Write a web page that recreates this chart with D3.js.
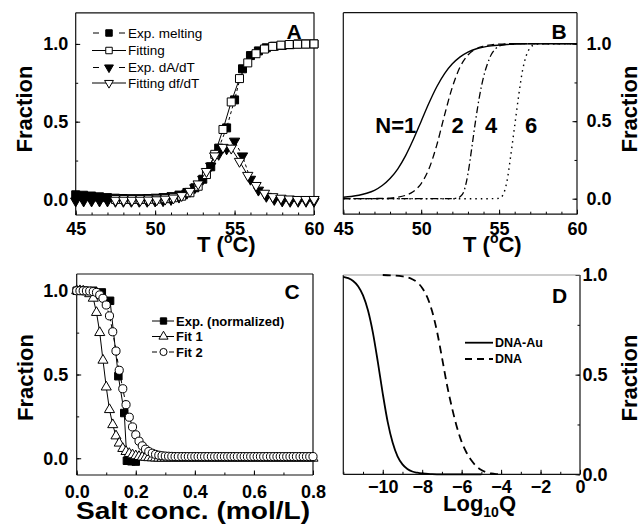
<!DOCTYPE html>
<html><head><meta charset="utf-8">
<script src="https://cdn.jsdelivr.net/npm/d3@7"></script>
<style>body{margin:0;background:#fff}svg{display:block}</style>
</head><body><script>
// ---------- Panel A data ----------
const aExpT = [45,45.5,46,46.5,47,47.5,48,48.5,49,49.5,50,50.5,51,51.5,52,52.5,53,53.5,54,54.5,55,55.5,56,56.5,57,57.5,58,58.5,59,59.5,60];
const aExpMelt = [0.03,0.027,0.022,0.017,0.012,0.008,0.006,0.005,0.005,0.006,0.008,0.012,0.018,0.028,0.045,0.075,0.13,0.21,0.33,0.46,0.64,0.84,0.925,0.955,0.975,0.985,0.99,0.995,1.0,1.0,1.0];
const aExpDeriv = [-0.01,-0.01,-0.01,-0.01,-0.01,-0.012,-0.012,-0.012,-0.012,-0.012,-0.01,-0.008,0.0,0.015,0.04,0.075,0.13,0.215,0.29,0.325,0.375,0.28,0.13,0.06,0.02,0.0,-0.01,-0.012,-0.012,-0.012,-0.012];
const aFitT = [47.50,48.02,48.54,49.06,49.58,50.10,50.63,51.15,51.67,52.19,52.71,53.23,53.75,54.27,54.79,55.31,55.83,56.35,56.88,57.40,57.92,58.44,58.96,59.48,60.00];
const aFit = [0,0,0,0,0.001,0.002,0.005,0.011,0.021,0.043,0.085,0.16,0.29,0.45,0.627,0.777,0.878,0.937,0.967,0.984,0.992,0.996,0.998,0.999,1.0];
const aFitDeriv = [-0.005,-0.005,-0.005,-0.005,-0.004,-0.002,0.002,0.009,0.025,0.052,0.1,0.18,0.28,0.335,0.33,0.245,0.155,0.09,0.04,0.018,0.008,0.003,0.0,0.0,0.0];
const aLegend = ["Exp. melting","Fitting","Exp. dA/dT","Fitting df/dT"];
const aXTicks = [45,50,55,60];
const aXMinor = [45,46,47,48,49,50,51,52,53,54,55,56,57,58,59,60];
const fracTicks = [0.0,0.5,1.0];
const fracMinor = [0.0,0.25,0.5,0.75,1.0];

// ---------- Panel B data ----------
const bT1 = [45,45.5,46,46.5,47,47.5,48,48.5,49,49.5,50,50.5,51,51.5,52,52.5,53,53.5,54,54.5,55,55.5,56,57,58,59,60];
const bN1 = [0.009,0.014,0.022,0.035,0.054,0.085,0.13,0.193,0.278,0.383,0.5,0.617,0.722,0.807,0.87,0.915,0.946,0.966,0.978,0.986,0.991,0.995,0.997,0.999,1,1,1];
const bT2 = [45,46,47,48,48.5,49,49.5,50,50.5,51,51.5,52,52.5,53,53.5,54,54.5,55,56,57,60];
const bN2 = [0,0,0.001,0.004,0.01,0.022,0.047,0.098,0.193,0.346,0.54,0.72,0.851,0.927,0.966,0.984,0.993,0.997,1,1,1];
const bT4 = [45,50,51,52,52.25,52.5,52.75,53,53.25,53.5,53.75,54,54.25,54.5,54.75,55,55.5,56,60];
const bN4 = [0,0,0,0.001,0.004,0.013,0.05,0.16,0.33,0.51,0.665,0.785,0.87,0.93,0.965,0.985,0.997,1,1];
const bT6 = [45,50,54,55,55.25,55.5,55.75,56,56.25,56.5,56.75,57,57.25,57.5,58,60];
const bN6 = [0,0,0,0.002,0.025,0.11,0.28,0.47,0.66,0.825,0.925,0.975,0.992,0.998,1,1];
const bLabels = ["N=1","2","4","6"];

// ---------- Panel C data ----------
const cX = [0,0.011,0.022,0.033,0.044,0.056,0.067,0.078,0.089,0.1,
 0.111,0.122,0.133,0.144,0.156,0.167,0.178,0.189,0.2,
 0.211,0.222,0.233,0.244,0.256,0.267,0.278,0.289,0.3,
 0.311,0.322,0.333,0.344,0.356,0.367,0.378,0.389,0.4,
 0.411,0.422,0.433,0.444,0.456,0.467,0.478,0.489,0.5,
 0.511,0.522,0.533,0.544,0.556,0.567,0.578,0.589,0.6,
 0.611,0.622,0.633,0.644,0.656,0.667,0.678,0.689,0.7,
 0.711,0.722,0.733,0.744,0.756,0.767,0.778,0.789,0.8];
const cFit1 = [1.0,1.0,0.998,0.993,0.982,0.955,0.87,0.75,0.585,0.425,
 0.29,0.2,0.133,0.09,0.058,0.04,0.028,0.02,0.014,
 0.01,0.007,0.005,0.003,0.002,0.001,0,0,0,
 0,0,0,0,0,0,0,0,0,
 0,0,0,0,0,0,0,0,0,
 0,0,0,0,0,0,0,0,0,
 0,0,0,0,0,0,0,0,0,
 0,0,0,0,0,0,0,0,0];
const cFit2 = [1.0,1.0,1.0,0.999,0.998,0.995,0.99,0.975,0.955,0.915,
 0.85,0.755,0.64,0.525,0.415,0.32,0.245,0.187,0.14,
 0.102,0.074,0.054,0.04,0.03,0.023,0.018,0.015,0.013,
 0.012,0.011,0.01,0.01,0.01,0.01,0.01,0.01,0.01,
 0.01,0.01,0.01,0.01,0.01,0.01,0.01,0.01,0.01,
 0.01,0.01,0.01,0.01,0.01,0.01,0.01,0.01,0.01,
 0.01,0.01,0.01,0.01,0.01,0.01,0.01,0.01,0.01,
 0.01,0.01,0.01,0.01,0.01,0.01,0.01,0.01,0.01];
const cExpX = [0.0,0.028,0.056,0.085,0.113,0.141,0.161,0.170,0.185,0.2];
const cExp = [1.0,1.0,1.0,0.99,0.94,0.49,0.27,-0.015,-0.018,-0.02];
const cLegend = ["Exp. (normalized)","Fit 1","Fit 2"];
const cXTicks = [0.0,0.2,0.4,0.6,0.8];
const cXMinor = [0,0.1,0.2,0.3,0.4,0.5,0.6,0.7,0.8];

// ---------- Panel D data ----------
const dAuX = [-12,-11.75,-11.5,-11.25,-11,-10.75,-10.5,-10.25,-10,-9.75,-9.5,-9.25,-9,-8.75,-8.5,-8.25,-8,-7.5,-7,-6,-5];
const dAu = [0.991,0.984,0.97,0.944,0.898,0.823,0.711,0.564,0.405,0.263,0.159,0.09,0.05,0.027,0.014,0.008,0.004,0.001,0,0,0];
const dDnaX = [-10,-9.5,-9,-8.75,-8.5,-8.25,-8,-7.75,-7.5,-7.25,-7,-6.75,-6.5,-6.25,-6,-5.75,-5.5,-5.25,-5,-4.75,-4.5,-4.25,-4];
const dDna = [1.0,0.998,0.993,0.988,0.979,0.963,0.935,0.89,0.819,0.717,0.587,0.452,0.338,0.24,0.163,0.108,0.069,0.04,0.022,0.01,0.004,0.001,0];
const dLegend = ["DNA-Au","DNA"];
const dXTicks = [-10,-8,-6,-4,-2,0];
const dXMinor = [-12,-11,-10,-9,-8,-7,-6,-5,-4,-3,-2,-1,0];

// ---------- drawing ----------
const FONT = '"Liberation Sans", Arial, Helvetica, sans-serif';
const TICKFS = 18;
const svg = d3.select('body').append('svg').attr('width',641).attr('height',529)
  .attr('font-family',FONT);
svg.append('rect').attr('width',641).attr('height',529).attr('fill','#fff');

const xA = d3.scaleLinear([45,60],[75.7,314]);
const yA = d3.scaleLinear([-0.1,1.2],[215,12.8]);
const xB = d3.scaleLinear([45,60],[343.3,577]);
const yB = d3.scaleLinear([-0.1,1.2],[214.2,12.7]);
const xC = d3.scaleLinear([0,0.8],[76.7,313]);
const yC = d3.scaleLinear([-0.1,1.1],[475,274]);
const xD = d3.scaleLinear([-12,0],[343.3,580]);
const yD = d3.scaleLinear([0,1],[474.3,275]);

function styleAxis(g){
  g.select('.domain').remove();
  g.attr('font-family',null).attr('font-size',null);
  g.selectAll('line').attr('stroke','#000').attr('stroke-width',1);
  g.selectAll('text').attr('font-family',FONT).attr('font-size',TICKFS).attr('font-weight','bold').attr('fill','#000');
}
function drawAxes(x, y, o){
  const [yb, yt] = y.range(); const [xl, xr] = x.range();
  svg.append('g').attr('transform',`translate(0,${yb})`)
    .call(d3.axisBottom(x).tickValues(o.xMinor).tickSize(-2.5).tickFormat('')).call(styleAxis);
  svg.append('g').attr('transform',`translate(0,${yb})`)
    .call(d3.axisBottom(x).tickValues(o.xMajor).tickSize(-4.5).tickPadding(o.xPad).tickFormat(o.xFmt)).call(styleAxis);
  const ax = o.right ? d3.axisRight : d3.axisLeft;
  const xp = o.right ? xr : xl;
  svg.append('g').attr('transform',`translate(${xp},0)`)
    .call(ax(y).tickValues(fracMinor).tickSize(-2.5).tickFormat('')).call(styleAxis);
  svg.append('g').attr('transform',`translate(${xp},0)`)
    .call(ax(y).tickValues(fracTicks).tickSize(-4.5).tickPadding(o.yPad).tickFormat(d3.format('.1f'))).call(styleAxis);
  const f = svg.append('g').attr('stroke','#111').attr('stroke-width',1.2);
  f.append('line').attr('x1',xl).attr('x2',xl).attr('y1',yt).attr('y2',yb);
  f.append('line').attr('x1',xr).attr('x2',xr).attr('y1',yt).attr('y2',yb);
  f.append('line').attr('x1',xl).attr('x2',xr).attr('y1',yb).attr('y2',yb);
  f.append('line').attr('x1',xl).attr('x2',xr).attr('y1',yt).attr('y2',yt).attr('stroke',o.topColor||'#111');
}
function series(xs, ys, x, y, opt){
  const pts = xs.map((v,i)=>[v, ys[i]]);
  const line = d3.line().x(d=>x(d[0])).y(d=>y(d[1])).curve(opt.curve||d3.curveLinear);
  svg.append('path').attr('d',line(pts)).attr('fill','none').attr('stroke','#000')
    .attr('stroke-width',opt.sw||1).attr('stroke-dasharray',opt.dash||null);
  if(opt.sym){
    svg.append('g').selectAll('path').data(pts).join('path')
      .attr('transform',d=>`translate(${x(d[0])},${y(d[1])})${opt.rot?' rotate(180)':''}`)
      .attr('d',d3.symbol().type(opt.sym).size(opt.size))
      .attr('fill',opt.fill).attr('stroke','#000').attr('stroke-width',1);
  }
}
function sym(g, cx, cy, type, size, fill, rot){
  g.append('path').attr('transform',`translate(${cx},${cy})${rot?' rotate(180)':''}`)
    .attr('d',d3.symbol().type(type).size(size)).attr('fill',fill).attr('stroke','#000').attr('stroke-width',1);
}
function yTitle(bx, cy){
  svg.append('text').attr('transform',`translate(${bx},${cy}) rotate(-90)`).attr('text-anchor','middle')
    .attr('font-size',22).attr('font-weight','bold').text('Fraction');
}
function tTitle(x0, base){
  const t = svg.append('text').attr('x',x0).attr('y',base).attr('font-size',22).attr('font-weight','bold');
  t.append('tspan').text('T (');
  t.append('tspan').attr('font-size',14).attr('dy',-9).text('o');
  t.append('tspan').attr('dy',9).text('C)');
}
function letter(s, x, y){
  svg.append('text').attr('x',x).attr('y',y).attr('text-anchor','middle').attr('font-size',21).attr('font-weight','bold').text(s);
}

// ----- Panel A -----
drawAxes(xA, yA, {xMinor:aXMinor, xMajor:aXTicks, xPad:7, xFmt:d3.format('d'), yPad:7.5});
series(aExpT, aExpMelt, xA, yA, {dash:'3,3', sym:d3.symbolSquare, size:64, fill:'#000'});
series(aExpT, aExpDeriv, xA, yA, {dash:'3,3', sym:d3.symbolTriangle, size:46, fill:'#000', rot:true});
series(aFitT, aFit, xA, yA, {sym:d3.symbolSquare, size:64, fill:'#fff'});
series(aFitT, aFitDeriv, xA, yA, {sym:d3.symbolTriangle, size:46, fill:'#fff', rot:true});
{
  const g = svg.append('g');
  const rows = [33, 50.5, 67.5, 83];
  const sty = [{dash:true,t:d3.symbolSquare,s:42,f:'#000',r:false},{dash:false,t:d3.symbolSquare,s:42,f:'#fff',r:false},
               {dash:true,t:d3.symbolTriangle,s:34,f:'#000',r:true},{dash:false,t:d3.symbolTriangle,s:34,f:'#fff',r:true}];
  aLegend.forEach((lab,i)=>{
    const y = rows[i], s = sty[i];
    if(s.dash){
      g.append('line').attr('x1',93).attr('x2',99).attr('y1',y).attr('y2',y).attr('stroke','#000');
      g.append('line').attr('x1',119).attr('x2',125).attr('y1',y).attr('y2',y).attr('stroke','#000');
    } else {
      g.append('line').attr('x1',92).attr('x2',126).attr('y1',y).attr('y2',y).attr('stroke','#000');
    }
    sym(g, 109, y, s.t, s.s, s.f, s.r);
    g.append('text').attr('x',128).attr('y',y).attr('dy','0.35em').attr('font-size',13.5).text(lab);
  });
}
letter('A', 294, 38.5);
yTitle(32, 109);
tTitle(197, 252);

// ----- Panel B -----
drawAxes(xB, yB, {xMinor:aXMinor, xMajor:aXTicks, xPad:7.8, xFmt:d3.format('d'), yPad:9.5, right:true});
series(bT6, bN6, xB, yB, {curve:d3.curveMonotoneX, sw:1.4, dash:'1.5,4'});
series(bT4, bN4, xB, yB, {curve:d3.curveMonotoneX, sw:1.3, dash:'7,3,1.5,3'});
series(bT2, bN2, xB, yB, {curve:d3.curveMonotoneX, sw:1.3, dash:'7,4'});
series(bT1, bN1, xB, yB, {curve:d3.curveMonotoneX, sw:1.4});
{
  const pos = [[395.8,133],[457.5,133],[491,133],[531,133]];
  bLabels.forEach((s,i)=>svg.append('text').attr('x',pos[i][0]).attr('y',pos[i][1]).attr('text-anchor','middle')
    .attr('font-size',22).attr('font-weight','bold').text(s));
}
letter('B', 559, 38.5);
yTitle(637, 109);
tTitle(463, 252);

// ----- Panel C -----
drawAxes(xC, yC, {xMinor:cXMinor, xMajor:cXTicks, xPad:10, xFmt:d3.format('.1f'), yPad:8.5});
series(cExpX, cExp, xC, yC, {sym:d3.symbolSquare, size:56, fill:'#000'});
series(cX, cFit1, xC, yC, {sym:d3.symbolTriangle, size:44, fill:'#fff'});
series(cX, cFit2, xC, yC, {dash:'4,3', sym:d3.symbolCircle, size:52, fill:'#fff'});
{
  const g = svg.append('g');
  const rows = [321, 336.5, 352];
  const sty = [{dash:false,t:d3.symbolSquare,s:40,f:'#000'},{dash:false,t:d3.symbolTriangle,s:36,f:'#fff'},{dash:true,t:d3.symbolCircle,s:40,f:'#fff'}];
  cLegend.forEach((lab,i)=>{
    const y = rows[i], s = sty[i];
    if(s.dash){
      g.append('line').attr('x1',152).attr('x2',157).attr('y1',y).attr('y2',y).attr('stroke','#000');
      g.append('line').attr('x1',169).attr('x2',174).attr('y1',y).attr('y2',y).attr('stroke','#000');
    } else {
      g.append('line').attr('x1',152).attr('x2',174).attr('y1',y).attr('y2',y).attr('stroke','#000');
    }
    sym(g, 163.5, y, s.t, s.s, s.f, false);
    g.append('text').attr('x',176).attr('y',y).attr('dy','0.35em').attr('font-size',13).attr('font-weight','bold').text(lab);
  });
}
letter('C', 292, 299);
yTitle(33, 377.5);
svg.append('text').attr('x',76).attr('y',519).attr('font-size',23).attr('font-weight','bold')
  .attr('textLength',234).attr('lengthAdjust','spacingAndGlyphs').text('Salt conc. (mol/L)');

// ----- Panel D -----
drawAxes(xD, yD, {xMinor:dXMinor, xMajor:dXTicks, xPad:5.8, xFmt:d3.format('d'), yPad:2.5, right:true, topColor:'#999'});
series(dAuX, dAu, xD, yD, {curve:d3.curveMonotoneX, sw:1.8});
series(dDnaX, dDna, xD, yD, {curve:d3.curveMonotoneX, sw:1.8, dash:'8,5'});
{
  const g = svg.append('g');
  const rows = [342.7, 359];
  g.append('line').attr('x1',465).attr('x2',493).attr('y1',rows[0]).attr('y2',rows[0]).attr('stroke','#000').attr('stroke-width',1.8);
  g.append('line').attr('x1',465).attr('x2',493).attr('y1',rows[1]).attr('y2',rows[1]).attr('stroke','#000').attr('stroke-width',1.8).attr('stroke-dasharray','7,5');
  dLegend.forEach((lab,i)=>g.append('text').attr('x',495).attr('y',rows[i]).attr('dy','0.35em')
    .attr('font-size',12.5).attr('font-weight','bold').text(lab));
}
letter('D', 559.5, 302.5);
yTitle(637, 378);
{
  const t = svg.append('text').attr('x',443).attr('y',511).attr('font-size',22).attr('font-weight','bold');
  t.append('tspan').text('Log');
  t.append('tspan').attr('font-size',14).attr('dy',6).text('10');
  t.append('tspan').attr('dy',-6).text('Q');
}
</script></body></html>
